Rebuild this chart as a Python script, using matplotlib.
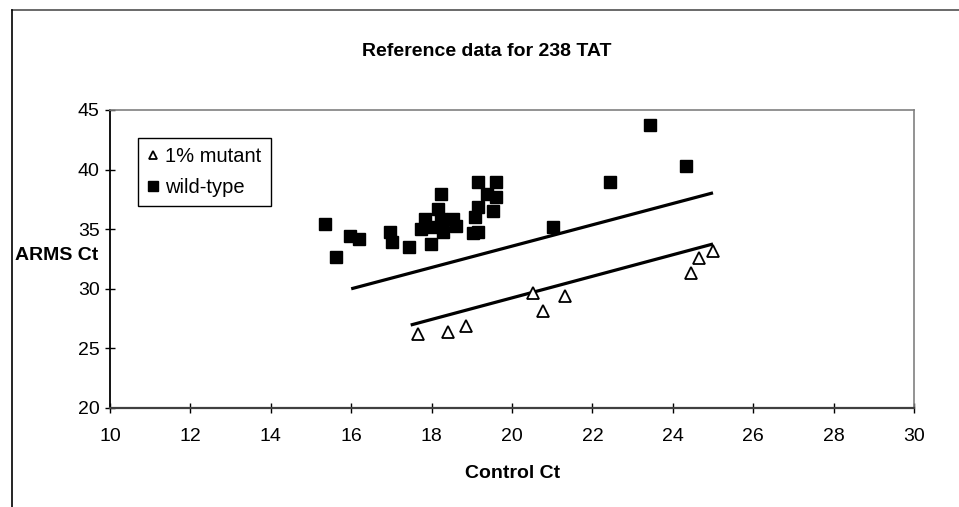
import matplotlib
matplotlib.use('Agg')
import matplotlib.pyplot as plt
from matplotlib.lines import Line2D

plt.rcParams['font.family'] = ['Liberation Sans', 'DejaVu Sans']

# wild-type points (Control Ct, ARMS Ct)
wt_x = [15.36, 15.61, 15.96, 16.19, 16.96, 17.01, 17.45, 17.99, 17.83, 17.74,
        18.16, 18.24, 18.24, 18.28, 18.03, 18.53, 18.61, 19.15, 19.60, 19.37,
        19.60, 19.15, 19.52, 19.07, 19.03, 19.15, 21.01, 22.44, 23.43, 24.33]
wt_y = [35.44, 32.64, 34.46, 34.18, 34.74, 33.90, 33.50, 33.78, 35.86, 35.02,
        36.69, 37.95, 35.86, 34.74, 35.16, 35.86, 35.30, 38.93, 38.93, 37.95,
        37.68, 36.84, 36.55, 36.00, 34.66, 34.74, 35.16, 38.93, 43.74, 40.30]

# 1% mutant points
mut_x = [17.66, 18.41, 18.86, 20.53, 20.78, 21.33, 24.45, 24.66, 24.99]
mut_y = [26.25, 26.40, 26.90, 29.62, 28.17, 29.42, 31.35, 32.60, 33.20]

# trend lines (end points)
wt_fit_x = [16.0, 25.0]
wt_fit_y = [30.0, 38.05]
mut_fit_x = [17.48, 25.0]
mut_fit_y = [26.96, 33.76]

x_ticks = list(range(10, 31, 2))
y_ticks = list(range(20, 46, 5))

fig = plt.figure(figsize=(9.59, 5.07), dpi=100)
ax = fig.add_axes([110/959, 1-408/507, 804/959, 298/507])

ax.plot(wt_fit_x, wt_fit_y, color='black', lw=2.3, solid_capstyle='butt', zorder=2)
ax.plot(mut_fit_x, mut_fit_y, color='black', lw=2.3, solid_capstyle='butt', zorder=2)
ax.plot(mut_x, mut_y, ls='none', marker='^', ms=8, mfc='white', mec='black',
        mew=1.3, label='1% mutant', zorder=3)
ax.plot(wt_x, wt_y, ls='none', marker='s', ms=8.5, mfc='black', mec='black',
        label='wild-type', zorder=3)

ax.set_xlim(10, 30)
ax.set_ylim(20, 45)
ax.set_xticks(x_ticks)
ax.set_yticks(y_ticks)
ax.tick_params(direction='inout', length=7, width=1, labelsize=14, colors='black')
ax.tick_params(axis='x', pad=11)
ax.tick_params(axis='y', pad=4)

ax.spines['left'].set_color('black')
ax.spines['left'].set_linewidth(1.3)
ax.spines['bottom'].set_color('#404040')
ax.spines['bottom'].set_linewidth(1.6)
for s in ['top', 'right']:
    ax.spines[s].set_color('#808080')
    ax.spines[s].set_linewidth(1.2)

leg = ax.legend(loc='upper left', bbox_to_anchor=(0.035, 0.906), borderaxespad=0,
                fontsize=14.5, handlelength=0.55, handletextpad=0.35, markerscale=0.8,
                fancybox=False, framealpha=1, edgecolor='black', borderpad=0.45,
                labelspacing=0.6)
leg.get_frame().set_linewidth(1.0)

fig.text(487/959, 1-51/507, 'Reference data for 238 TAT', ha='center', va='center',
         fontsize=14, fontweight='bold')
fig.text(15/959, 1-256/507, 'ARMS Ct', ha='left', va='center', fontsize=14,
         fontweight='bold')
fig.text(513/959, 1-474/507, 'Control Ct', ha='center', va='center', fontsize=14,
         fontweight='bold')

# outer chart border (top and left edges visible)
fig.add_artist(Line2D([12/959, 1], [1-10/507, 1-10/507], transform=fig.transFigure,
                      color='#505050', lw=1.2))
fig.add_artist(Line2D([12/959, 12/959], [0, 1-10/507], transform=fig.transFigure,
                      color='black', lw=1.2))

fig.savefig('out.png', dpi=100)
